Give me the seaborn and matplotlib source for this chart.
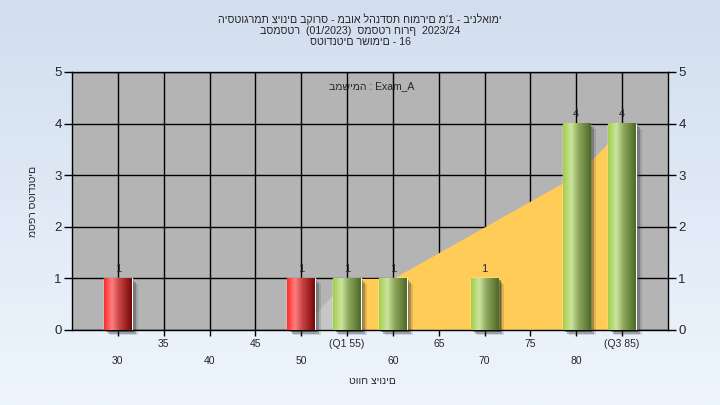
import numpy as np
import pandas as pd
import matplotlib
matplotlib.use('Agg')
import matplotlib.pyplot as plt
from matplotlib.colors import LinearSegmentedColormap
from matplotlib.patches import Rectangle
import seaborn as sns

# --- data ---
grades = [30, 50, 55, 60, 70, 80, 85]
counts = [1, 1, 1, 1, 1, 4, 4]
bar_group = ['out', 'out', 'in', 'in', 'in', 'in', 'in']

tick_grades = [30, 35, 40, 45, 50, 55, 60, 65, 70, 75, 80, 85]
tick_labels = ['30', '35', '40', '45', '50', '(Q1 55)', '60', '65', '70', '75', '80', '(Q3 85)']

# shaded band behind the bars (left part grey, Q1..Q3 part yellow)
band_lo_x = [50, 55]
band_lo_y = [0, 1]
band_x = [55, 60, 65, 70, 75, 80, 85]
band_y = [1, 1, 1.5, 2, 2.5, 3, 3.9]

title_lines = [
    "היסטוגרמת ציונים בקורס - מבוא להנדסת חומרים מ'1 - בינלאומי",
    "בסמסטר  (01/2023)  סמסטר חורף  2023/24",
    "סטודנטים רשומים - 16",
]
task_text = "במשימה : Exam_A"
x_title = "טווח ציונים"
y_title = "מספר סטודנטים"

sns.set_theme(style="white")
plt.rcParams['font.family'] = ['Liberation Sans', 'DejaVu Sans']

fig = plt.figure(figsize=(7.2, 4.05), dpi=100)

# background gradient
bg = fig.add_axes([0, 0, 1, 1], zorder=-10)
bg_cmap = LinearSegmentedColormap.from_list('bg', ['#d2deef', '#eef5fd'])
bg.imshow(np.linspace(0, 1, 256)[:, None], aspect='auto', cmap=bg_cmap, extent=[0, 1, 0, 1])
bg.axis('off')

ax = fig.add_axes([72 / 720, 75 / 405, 596 / 720, 258 / 405])
ax.set_facecolor('#b4b4b4')

df = pd.DataFrame({'grade': grades, 'count': counts, 'group': bar_group})
sns.barplot(data=df, x='grade', y='count', hue='group',
            palette={'out': '#e02020', 'in': '#8db048'},
            native_scale=True, width=0.6, dodge=False, legend=False,
            saturation=1, ax=ax, zorder=3)

# band
ax.fill_between(band_lo_x, band_lo_y, color='#c6c6c6', lw=0, zorder=1)
ax.fill_between(band_x, band_y, color='#ffcc58', lw=0, zorder=1.5)

# cylinder look + drop shadow
green_cm = LinearSegmentedColormap.from_list(
    'g', [(0, '#a2cf4a'), (0.3, '#cde5a0'), (0.55, '#8faa5e'), (1, '#4d6a26')])
red_cm = LinearSegmentedColormap.from_list(
    'r', [(0, '#ff2a2a'), (0.28, '#ff8080'), (0.55, '#c84444'), (1, '#7a0808')])
grad = np.linspace(0, 1, 64)[None, :]
for p in list(ax.patches):
    x0, w, h = p.get_x(), p.get_width(), p.get_height()
    is_red = p.get_facecolor()[1] < 0.4
    for k, a in enumerate([0.5, 0.3, 0.15]):
        ax.add_patch(Rectangle((x0 + 0.25 + 0.2 * k, -0.04 - 0.03 * k), w, h,
                               color='#2c2c2c', alpha=a, lw=0, zorder=2.5 - 0.1 * k,
                               clip_on=False))
    ax.imshow(grad, cmap=red_cm if is_red else green_cm, extent=[x0, x0 + w, 0, h],
              aspect='auto', interpolation='bicubic', zorder=4)

for g, c in zip(grades, counts):
    ax.annotate(str(c), (g, c), xytext=(0, 3.5), textcoords='offset points',
                ha='center', va='bottom', fontsize=8, color='#2a2a3a')

ax.set_xlim(25, 90)
ax.set_ylim(0, 5)
ax.grid(True, color='black', lw=1)
ax.set_axisbelow(True)
ax.set_xticks(tick_grades, tick_labels)
ax.set_yticks(range(6))
ax.set_xlabel('')
ax.set_ylabel('')
ax.tick_params(axis='x', direction='out', length=4, width=1, color='black', labelsize=7.5, bottom=True)
ax.tick_params(axis='y', direction='out', length=6, width=1, color='black', labelsize=9.5,
               left=True, right=True, labelleft=True, labelright=True, pad=1.5)
for i, t in enumerate(ax.xaxis.get_major_ticks()):
    t.set_pad(2.5 if i % 2 else 14.5)
for s in ax.spines.values():
    s.set_color('black')
    s.set_linewidth(1)

ax.text(0.503, 0.945, task_text, transform=ax.transAxes, ha='center', va='center', fontsize=7.5)
fig.text(0.5, 1 - 30 / 405, '\n'.join(title_lines), ha='center', va='center', fontsize=7.7,
         linespacing=1.12)
fig.text(372 / 720, 1 - 381 / 405, x_title, ha='center', va='center', fontsize=7.5)
fig.text(33 / 720, 1 - 201 / 405, y_title, ha='center', va='center', fontsize=7.5, rotation=90)

fig.savefig('out.png', dpi=100)
